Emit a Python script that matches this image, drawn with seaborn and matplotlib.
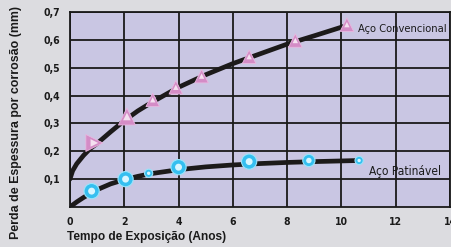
import matplotlib
matplotlib.use('Agg')
import matplotlib.pyplot as plt
import seaborn as sns
import pandas as pd

# Aço Convencional - pontos medidos
conv_x = [0.9, 2.1, 3.05, 3.9, 4.85, 6.6, 8.3, 10.2]
conv_y = [0.23, 0.325, 0.385, 0.43, 0.47, 0.54, 0.598, 0.655]
conv_size = [3, 3, 2, 2, 2, 2, 2, 2]
conv_dir = ['r', 'u', 'u', 'u', 'u', 'u', 'u', 'u']

# Aço Convencional - curva de tendência
conv_curve_x = [0, 0.1, 0.25, 0.5, 0.75, 1, 1.5, 2, 2.5, 3, 4, 5, 6, 7, 8, 9, 10.2]
conv_curve_y = [0.10, 0.13, 0.155, 0.185, 0.21, 0.228, 0.27, 0.31, 0.345, 0.375, 0.43, 0.475, 0.515, 0.55, 0.585, 0.615, 0.652]

# Aço Patinável - pontos medidos
pat_x = [0.8, 2.05, 2.9, 4.0, 6.6, 8.8, 10.65]
pat_y = [0.057, 0.10, 0.121, 0.143, 0.163, 0.167, 0.167]
pat_size = [3, 3, 1, 3, 3, 2, 1]

# Aço Patinável - curva de tendência
pat_curve_x = [0, 0.25, 0.5, 1, 1.5, 2, 2.5, 3, 4, 5, 6, 7, 8, 9, 10.65]
pat_curve_y = [0.0, 0.018, 0.034, 0.062, 0.083, 0.098, 0.11, 0.12, 0.134, 0.144, 0.151, 0.156, 0.16, 0.163, 0.167]

x_ticks = [0, 2, 4, 6, 8, 10, 12, 14]
y_ticks = [0.1, 0.2, 0.3, 0.4, 0.5, 0.6, 0.7]
y_tick_labels = ['0,1', '0,2', '0,3', '0,4', '0,5', '0,6', '0,7']

bg = '#dcdce0'
face = '#c9c6e3'

sns.set_theme(style='white')
plt.rcParams['font.family'] = ['DejaVu Sans']

fig = plt.figure(figsize=(4.51, 2.47), dpi=100, facecolor=bg)
ax = fig.add_axes([0.155, 0.162, 0.843, 0.789])
ax.set_facecolor(face)

ax.set_xlim(0, 14)
ax.set_ylim(0, 0.7)
ax.set_xticks(x_ticks)
ax.set_yticks(y_ticks)
ax.set_yticklabels(y_tick_labels)
ax.grid(True, color='#1a1a1a', linewidth=1.3)
ax.set_axisbelow(True)
for s in ax.spines.values():
    s.set_color('#1a1a1a')
    s.set_linewidth(1.3)
ax.tick_params(length=0, pad=7, labelsize=7.5, colors='#1a1a1a')
for lab in ax.get_xticklabels() + ax.get_yticklabels():
    lab.set_fontstretch('condensed')
    lab.set_fontweight('bold')

sns.lineplot(x=conv_curve_x, y=conv_curve_y, color='#1c1a1a', linewidth=3.4, ax=ax)
sns.lineplot(x=pat_curve_x, y=pat_curve_y, color='#1c1a1a', linewidth=3.4, ax=ax)

conv_df = pd.DataFrame({'x': conv_x, 'y': conv_y, 's': conv_size, 'd': conv_dir})
sns.scatterplot(data=conv_df, x='x', y='y', size='s', sizes=(95, 150), style='d',
                markers={'r': '>', 'u': '^'}, color='#d48cc6', edgecolor='#e8b8e0',
                linewidth=0.6, legend=False, ax=ax, zorder=4)
sns.scatterplot(data=conv_df, x='x', y='y', size='s', sizes=(15, 30), style='d',
                markers={'r': '>', 'u': '^'}, color='#f4e0f0', linewidth=0,
                legend=False, ax=ax, zorder=5)

pat_df = pd.DataFrame({'x': pat_x, 'y': pat_y, 's': pat_size})
sns.scatterplot(data=pat_df, x='x', y='y', size='s', sizes=(35, 120), color='#35bff0',
                edgecolor='#9be4fa', linewidth=0.8, legend=False, ax=ax, zorder=4)
sns.scatterplot(data=pat_df, x='x', y='y', size='s', sizes=(6, 25), color='#d8f6ff',
                linewidth=0, legend=False, ax=ax, zorder=5)

ax.text(10.6, 0.638, 'Aço Convencional', fontstretch='condensed', fontsize=8,
        color='#1a1a1a', va='center', ha='left')
ax.text(11.0, 0.126, 'Aço Patinável', fontstretch='condensed', fontsize=8.6,
        color='#1a1a1a', va='center', ha='left')

ax.set_xlabel('')
ax.set_ylabel('')
fig.text(0.149, 0.04, 'Tempo de Exposição (Anos)', fontsize=8.6, fontweight='bold',
         family=['Liberation Sans', 'DejaVu Sans'], color='#1a1a1a', ha='left', va='center')
fig.text(0.035, 0.505, 'Perda de Espessura por corrosão (mm)', fontsize=8.9,
         fontweight='bold', family=['Liberation Sans', 'DejaVu Sans'], color='#1a1a1a',
         rotation=90, ha='center', va='center')

fig.savefig('out.png', dpi=100, facecolor=bg)
